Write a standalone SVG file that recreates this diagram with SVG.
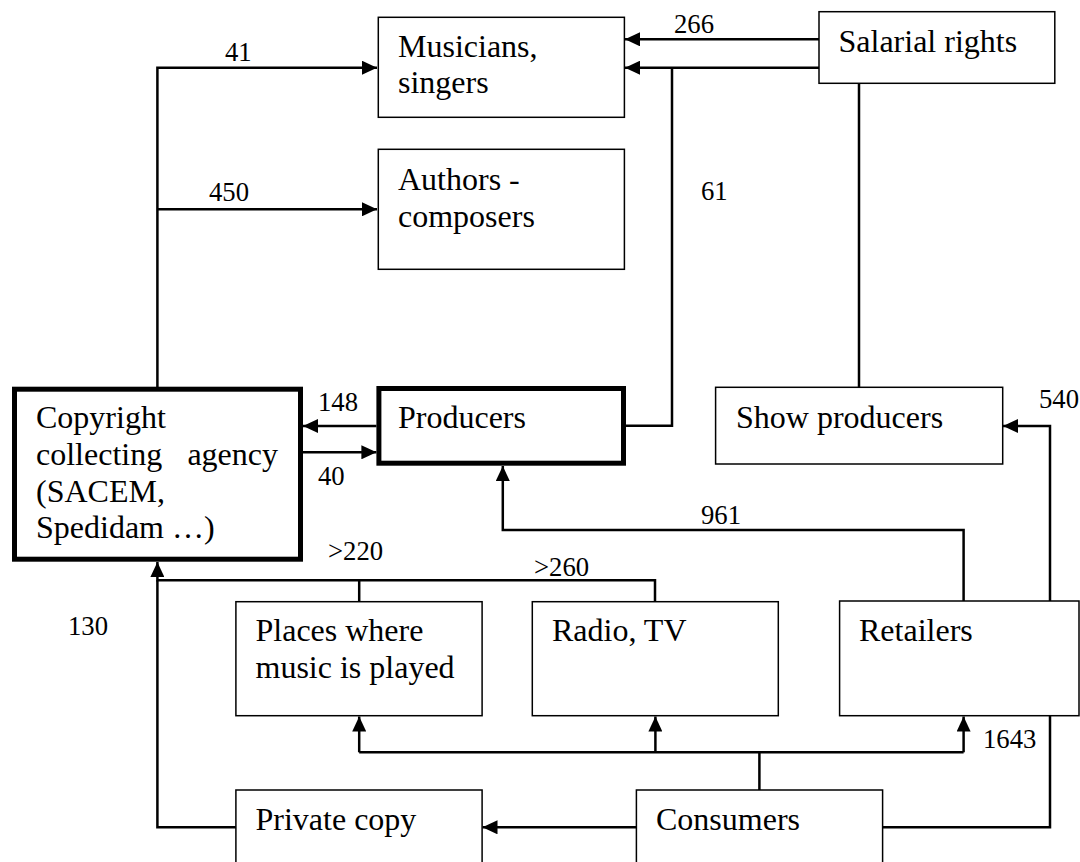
<svg xmlns="http://www.w3.org/2000/svg" width="1080" height="862" viewBox="0 0 1080 862">
<defs>
<style>
.box{fill:#fff;stroke:#000;stroke-width:1.5}
.thick{fill:#fff;stroke:#000;stroke-width:5}
.t{font-family:"Liberation Serif","Times New Roman",serif;font-size:32px;fill:#000}
.n{font-family:"Liberation Serif","Times New Roman",serif;font-size:26.7px;fill:#000}
.c{fill:none;stroke:#000;stroke-width:2.5}
</style>
<marker id="arr" markerUnits="userSpaceOnUse" markerWidth="15" markerHeight="14" refX="15" refY="7" orient="auto">
<path d="M0,0 L15,7 L0,14 Z" fill="#000"/>
</marker>
</defs>
<rect width="1080" height="862" fill="#fff"/>

<g id="connectors">
<path class="c" d="M157.4,387 V67.7 H377" marker-end="url(#arr)"/>
<path class="c" d="M157.4,209.3 H377" marker-end="url(#arr)"/>
<path class="c" d="M819,39.3 H625" marker-end="url(#arr)"/>
<path class="c" d="M819,67.7 H625" marker-end="url(#arr)"/>
<path class="c" d="M626,425.7 H672 V67.7"/>
<path class="c" d="M859,83.3 V387.3"/>
<path class="c" d="M376.4,426 H303" marker-end="url(#arr)"/>
<path class="c" d="M303,452.3 H376.4" marker-end="url(#arr)"/>
<path class="c" d="M963.6,601 V530 H502.8 V466" marker-end="url(#arr)"/>
<path class="c" d="M1050,601 V426 H1003" marker-end="url(#arr)"/>
<path class="c" d="M359.2,601.7 V580.3 H157.4 V562" marker-end="url(#arr)"/>
<path class="c" d="M655,601.7 V580.3 H359.2"/>
<path class="c" d="M235.9,827.3 H157.4 V580.3"/>
<path class="c" d="M759.4,790 V752.3"/>
<path class="c" d="M359.2,752.3 H963.6"/>
<path class="c" d="M359.2,752.3 V716.5" marker-end="url(#arr)"/>
<path class="c" d="M655.4,752.3 V716.5" marker-end="url(#arr)"/>
<path class="c" d="M963.6,752.3 V716.5" marker-end="url(#arr)"/>
<path class="c" d="M636.4,827.3 H482.5" marker-end="url(#arr)"/>
<path class="c" d="M882.6,827.3 H1050 V715.7"/>
</g>

<g id="labels">
<text class="n" x="225" y="61">41</text>
<text class="n" x="209" y="201">450</text>
<text class="n" x="674" y="32.7">266</text>
<text class="n" x="701" y="200">61</text>
<text class="n" x="318" y="410.7">148</text>
<text class="n" x="318" y="485">40</text>
<text class="n" x="701" y="524">961</text>
<text class="n" x="328" y="560">&gt;220</text>
<text class="n" x="534" y="576">&gt;260</text>
<text class="n" x="1039" y="408">540</text>
<text class="n" x="68" y="635">130</text>
<text class="n" x="983" y="748.3">1643</text>
</g>

<g id="musicians">
<rect class="box" x="378.3" y="17.3" width="246.1" height="100"/>
<text class="t" x="398" y="56.7">Musicians,</text>
<text class="t" x="398" y="93.3">singers</text>
</g>
<g id="authors">
<rect class="box" x="378.3" y="149.3" width="246.1" height="120"/>
<text class="t" x="398" y="190">Authors -</text>
<text class="t" x="398" y="226.7">composers</text>
</g>
<g id="salarial">
<rect class="box" x="819" y="11.7" width="235.8" height="71.6"/>
<text class="t" x="838.5" y="51.7">Salarial rights</text>
</g>
<g id="copyright">
<rect class="thick" x="14.5" y="389.2" width="286" height="170"/>
<text class="t" x="36" y="428">Copyright</text>
<text class="t" x="36" y="465">collecting</text>
<text class="t" x="278" y="465" text-anchor="end">agency</text>
<text class="t" x="36" y="501.7">(SACEM,</text>
<text class="t" x="36" y="538">Spedidam …)</text>
</g>
<g id="producers">
<rect class="thick" x="378.9" y="388.5" width="244.6" height="74.7"/>
<text class="t" x="398" y="428">Producers</text>
</g>
<g id="show-producers">
<rect class="box" x="715.6" y="387.3" width="287.1" height="76.7"/>
<text class="t" x="736" y="428">Show producers</text>
</g>
<g id="places">
<rect class="box" x="235.9" y="601.7" width="246.2" height="114"/>
<text class="t" x="255.5" y="641">Places where</text>
<text class="t" x="255.5" y="678.3">music is played</text>
</g>
<g id="radio">
<rect class="box" x="532.3" y="601.7" width="246" height="114"/>
<text class="t" x="552" y="641">Radio, TV</text>
</g>
<g id="retailers">
<rect class="box" x="839.6" y="601" width="239.4" height="114.7"/>
<text class="t" x="859" y="641">Retailers</text>
</g>
<g id="private-copy">
<rect class="box" x="235.9" y="790" width="246.2" height="110"/>
<text class="t" x="255.5" y="830">Private copy</text>
</g>
<g id="consumers">
<rect class="box" x="636.4" y="790" width="246.2" height="110"/>
<text class="t" x="656" y="830">Consumers</text>
</g>
</svg>
